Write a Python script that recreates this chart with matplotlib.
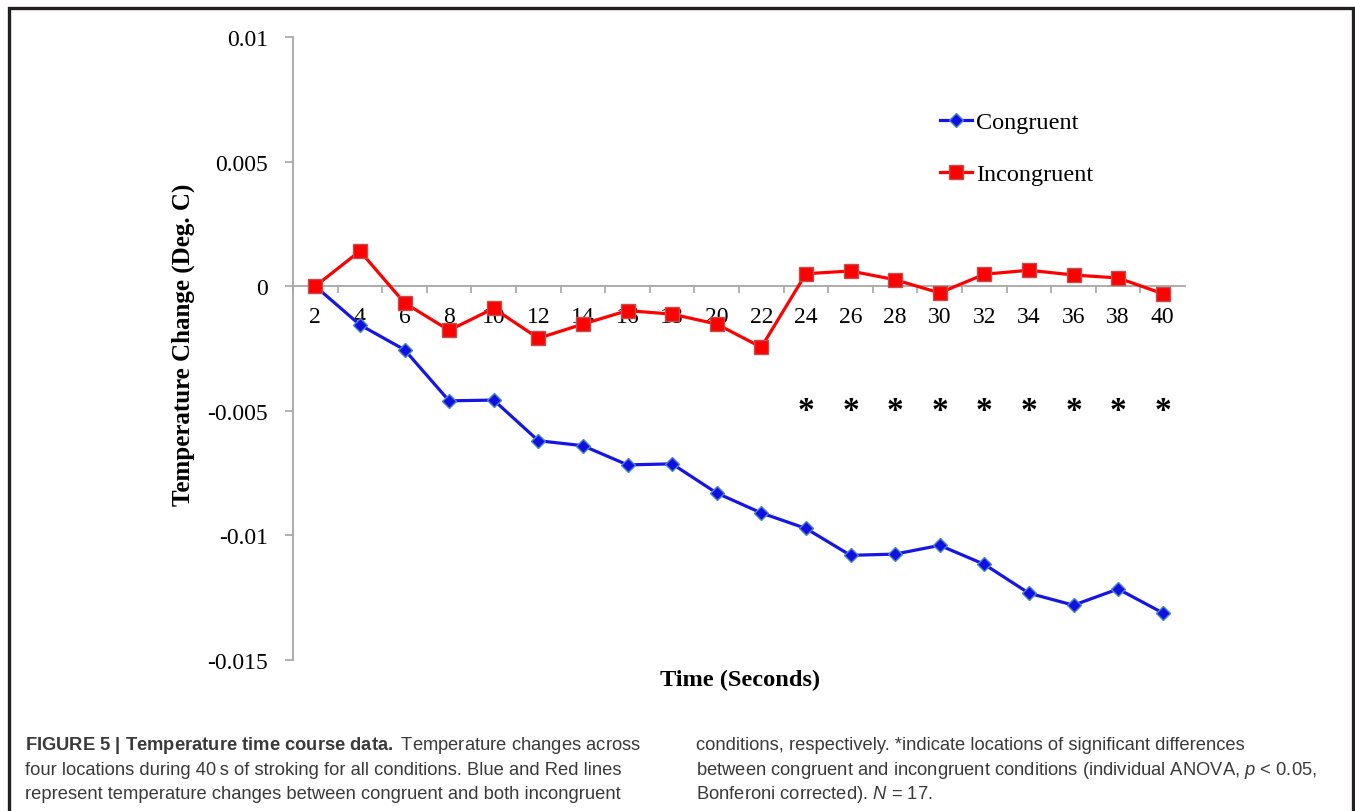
import matplotlib
matplotlib.use("Agg")
import matplotlib.pyplot as plt
from matplotlib.patches import Rectangle
from matplotlib.ticker import FixedLocator, FuncFormatter

# ---------- data ----------
TIME_S = [2, 4, 6, 8, 10, 12, 14, 16, 18, 20, 22, 24, 26, 28, 30, 32, 34, 36, 38, 40]
CONGRUENT = [0.0, -0.00155, -0.00255, -0.0046, -0.00457, -0.0062, -0.0064, -0.00717,
             -0.00713, -0.0083, -0.0091, -0.00972, -0.0108, -0.01075, -0.0104,
             -0.01116, -0.01232, -0.0128, -0.01215, -0.01311]
INCONGRUENT = [0.0, 0.00141, -0.00067, -0.00177, -0.00089, -0.00209, -0.00152,
               -0.00098, -0.00112, -0.00152, -0.00245, 0.0005, 0.00061, 0.00026,
               -0.00027, 0.00048, 0.00064, 0.00045, 0.00033, -0.0003]
SIGNIFICANT = [24, 26, 28, 30, 32, 34, 36, 38, 40]
Y_TICKS = [0.01, 0.005, 0.0, -0.005, -0.01, -0.015]
Y_TICKLABELS = ["0.01", "0.005", "0", "-0.005", "-0.01", "-0.015"]

CAPTION_LEFT = [
    r"$\mathbf{FIGURE\ 5\ |\ Temperature\ time\ course\ data.}$ Temperature changes across",
    "four locations during 40\u2009s of stroking for all conditions. Blue and Red lines",
    "represent temperature changes between congruent and both incongruent",
]
CAPTION_RIGHT = [
    "conditions, respectively. *indicate locations of significant differences",
    r"between congruent and incongruent conditions (individual ANOVA, $\mathit{p}$ < 0.05,",
    r"Bonferoni corrected). $\mathit{N}$ = 17.",
]

AXIS_GREY = "#a6a6a6"

plt.rcParams["font.family"] = "Liberation Serif"
plt.rcParams["mathtext.fontset"] = "custom"
plt.rcParams["mathtext.rm"] = "Liberation Sans"
plt.rcParams["mathtext.it"] = "Liberation Sans:italic"
plt.rcParams["mathtext.bf"] = "Liberation Sans:bold"

W, H = 1355, 812
fig = plt.figure(figsize=(W / 100, H / 100), dpi=100)
fig.patch.set_facecolor("white")

# outer frame of the figure panel
fig.patches.append(Rectangle((9 / W, -0.05), (1353 - 9) / W, 1.05 - 9 / H,
                             transform=fig.transFigure, fill=False,
                             edgecolor="#231f20", linewidth=2.4))

ax = fig.add_axes([293 / W, 1 - 661 / H, (1185 - 293) / W, (661 - 38) / H])
x = list(range(len(TIME_S)))

ax.plot(x, CONGRUENT, color="#1515e6", linewidth=2.3, marker="D", markersize=7.5,
        markerfacecolor="#1010e0", markeredgecolor="#4a86c8", markeredgewidth=1.0,
        label="Congruent", zorder=3)
ax.plot(x, INCONGRUENT, color="#ff0000", linewidth=2.3, marker="s", markersize=10,
        markerfacecolor="#ff0000", markeredgecolor="#c0504d", markeredgewidth=1.0,
        label="Incongruent", zorder=4)

for t in SIGNIFICANT:
    ax.text(TIME_S.index(t), -0.0050, "*", ha="center", va="center",
            fontsize=24, fontweight="bold", color="black")

ax.set_xlim(-0.5, len(TIME_S) - 0.5)
ax.set_ylim(-0.015, 0.01)

ax.spines["top"].set_visible(False)
ax.spines["right"].set_visible(False)
ax.spines["bottom"].set_position(("data", 0))
for s in ("left", "bottom"):
    ax.spines[s].set_color(AXIS_GREY)
    ax.spines[s].set_linewidth(1.3)

ax.set_xticks(x)
ax.set_xticklabels([str(t) for t in TIME_S])
ax.xaxis.set_minor_locator(FixedLocator([i - 0.5 for i in range(len(TIME_S))]))
ax.tick_params(axis="x", which="major", length=0, pad=14.5, labelsize=17)
ax.tick_params(axis="x", which="minor", length=5, width=1.2, color=AXIS_GREY, direction="out")

ax.set_yticks(Y_TICKS)
ax.yaxis.set_major_formatter(FuncFormatter(lambda v, p: Y_TICKLABELS[Y_TICKS.index(round(v, 3))]
                                           if round(v, 3) in Y_TICKS else ""))
ax.tick_params(axis="y", length=6, width=1.2, color=AXIS_GREY, direction="out",
               pad=12, labelsize=17)

fig.text(183 / W, 1 - 345 / H, "Temperature Change (Deg. C)", rotation=90,
         ha="center", va="center", fontsize=18, fontweight="bold")
fig.text(740 / W, 1 - 680 / H, "Time (Seconds)", ha="center", va="center",
         fontsize=17.6, fontweight="bold")

leg = ax.legend(loc="upper left", bbox_to_anchor=(940 / W, 1 - 112 / H),
                bbox_transform=fig.transFigure, frameon=False, fontsize=17.5,
                handlelength=1.3, handletextpad=0.2, labelspacing=1.25,
                borderpad=0, borderaxespad=0)

# caption
for i, (left, right) in enumerate(zip(CAPTION_LEFT, CAPTION_RIGHT)):
    yy = 1 - (746 + i * 24.5) / H
    fig.text(25 / W, yy, left, ha="left", va="center", family="Liberation Sans",
             fontsize=13.2, color="#3a3a3a")
    fig.text(696 / W, yy, right, ha="left", va="center", family="Liberation Sans",
             fontsize=13.2, color="#3a3a3a")

fig.savefig("out.png", dpi=100)
